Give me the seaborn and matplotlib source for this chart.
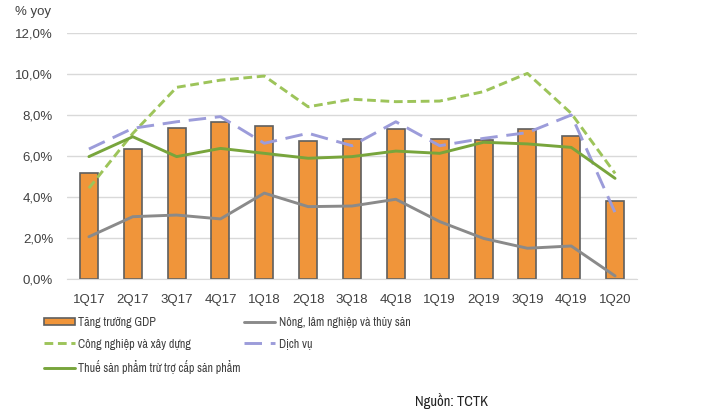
import pandas as pd
import numpy as np
import matplotlib.pyplot as plt
import seaborn as sns
from matplotlib import font_manager
from matplotlib.patches import Patch
from matplotlib.lines import Line2D
from matplotlib.ticker import FuncFormatter

# Data (% yoy)
quarters = ["1Q17", "2Q17", "3Q17", "4Q17", "1Q18", "2Q18", "3Q18",
            "4Q18", "1Q19", "2Q19", "3Q19", "4Q19", "1Q20"]
gdp = [5.15, 6.34, 7.37, 7.65, 7.46, 6.73, 6.82, 7.31, 6.82, 6.77, 7.31, 6.97, 3.82]
nong_lam = [2.06, 3.04, 3.12, 2.93, 4.19, 3.53, 3.56, 3.89, 2.80, 1.98, 1.50, 1.61, 0.15]
cong_nghiep = [4.43, 7.10, 9.35, 9.70, 9.90, 8.40, 8.77, 8.65, 8.68, 9.14, 10.03, 8.08, 5.15]
dich_vu = [6.34, 7.35, 7.67, 7.92, 6.62, 7.11, 6.50, 7.67, 6.50, 6.86, 7.14, 8.00, 3.24]
thue = [5.97, 6.94, 5.97, 6.37, 6.13, 5.89, 5.97, 6.24, 6.13, 6.67, 6.59, 6.42, 4.91]

labels = ["Tăng trưởng GDP", "Nông, lâm nghiệp và thủy sản",
          "Công nghiệp và xây dựng", "Dịch vụ",
          "Thuế sản phẩm trừ trợ cấp sản phẩm"]

df = pd.DataFrame({"Quý": quarters, "GDP": gdp, "Nong": nong_lam,
                   "CN": cong_nghiep, "DV": dich_vu, "Thue": thue})

sns.set_style("white")
plt.rcParams["font.family"] = ["Liberation Sans", "DejaVu Sans"]

# the legend and source line use a narrow face (Arial Narrow look) if one exists
names = {f.name for f in font_manager.fontManager.ttflist}
narrow = next((n for n in ["Liberation Sans Narrow", "Arimo Narrow", "Archivo Narrow",
                           "Roboto Condensed"] if n in names), None)
narrow_fam = [narrow, "Liberation Sans", "DejaVu Sans"] if narrow else ["Liberation Sans", "DejaVu Sans"]

c_bar = "#F0953A"
c_edge = "#5F5F5F"
c_grey = "#8A8A8A"
c_cn = "#9DC45A"
c_dv = "#9C9CDA"
c_thue = "#78A53C"
c_text = "#404040"

fig = plt.figure(figsize=(7.1, 4.15), dpi=100)
ax = fig.add_axes([67 / 710, 1 - 279 / 415, 570 / 710, 246 / 415])

sns.barplot(data=df, x="Quý", y="GDP", color=c_bar, edgecolor=c_edge,
            linewidth=1.2, width=0.41, saturation=1, ax=ax, zorder=2)

x = np.arange(len(quarters))
ax.plot(x, nong_lam, color=c_grey, lw=2.1, zorder=3)
ax.plot(x, cong_nghiep, color=c_cn, lw=2.1, ls=(0, (3, 1.6)), zorder=3)
ax.plot(x, dich_vu, color=c_dv, lw=2.1, ls=(0, (6, 3)), zorder=3)
ax.plot(x, thue, color=c_thue, lw=2.1, zorder=3)

ax.set_ylim(0, 12)
ax.set_xlim(-0.5, len(quarters) - 0.5)
ax.set_yticks(np.arange(0, 12.1, 2))
ax.yaxis.set_major_formatter(FuncFormatter(lambda v, p: f"{v:.1f}%".replace(".", ",")))
ax.grid(axis="y", color="#D9D9D9", lw=1, zorder=0)
ax.set_axisbelow(True)
for s in ax.spines.values():
    s.set_visible(False)
ax.spines["bottom"].set_visible(True)
ax.spines["bottom"].set_color("#D9D9D9")
ax.tick_params(axis="both", length=0, labelsize=9.5, colors=c_text)
ax.tick_params(axis="x", pad=11)
ax.tick_params(axis="y", pad=10)
ax.set_xlabel("")
ax.set_ylabel("")

fig.text(15 / 710, 1 - 12 / 415, "% yoy", fontsize=9.5, color=c_text, va="center")

handles = [
    Patch(facecolor=c_bar, edgecolor=c_edge, linewidth=1.2),
    Line2D([], [], color=c_cn, lw=2.1, ls=(0, (3, 1.6))),
    Line2D([], [], color=c_thue, lw=2.1),
    Line2D([], [], color=c_grey, lw=2.1),
    Line2D([], [], color=c_dv, lw=2.1, ls=(0, (6, 3))),
]
leg_labels = [labels[0], labels[2], labels[4], labels[1], labels[3]]
leg_size = 8.7 if narrow else 8
leg = fig.legend(handles, leg_labels, ncol=2, loc="upper left",
                 bbox_to_anchor=(33 / 710, 1 - 306 / 415), frameon=False,
                 prop={"family": narrow_fam, "size": leg_size},
                 handlelength=2.6 * 8.5 / leg_size, handleheight=0.6,
                 handletextpad=0.3, columnspacing=0.3, labelspacing=0.88)
for t in leg.get_texts():
    t.set_color(c_text)

fig.text(488 / 710, 1 - 401 / 415, "Nguồn: TCTK", fontsize=10.5 if narrow else 10,
         family=narrow_fam, color="#222222", ha="right", va="center")

plt.savefig("out.png", dpi=100)
